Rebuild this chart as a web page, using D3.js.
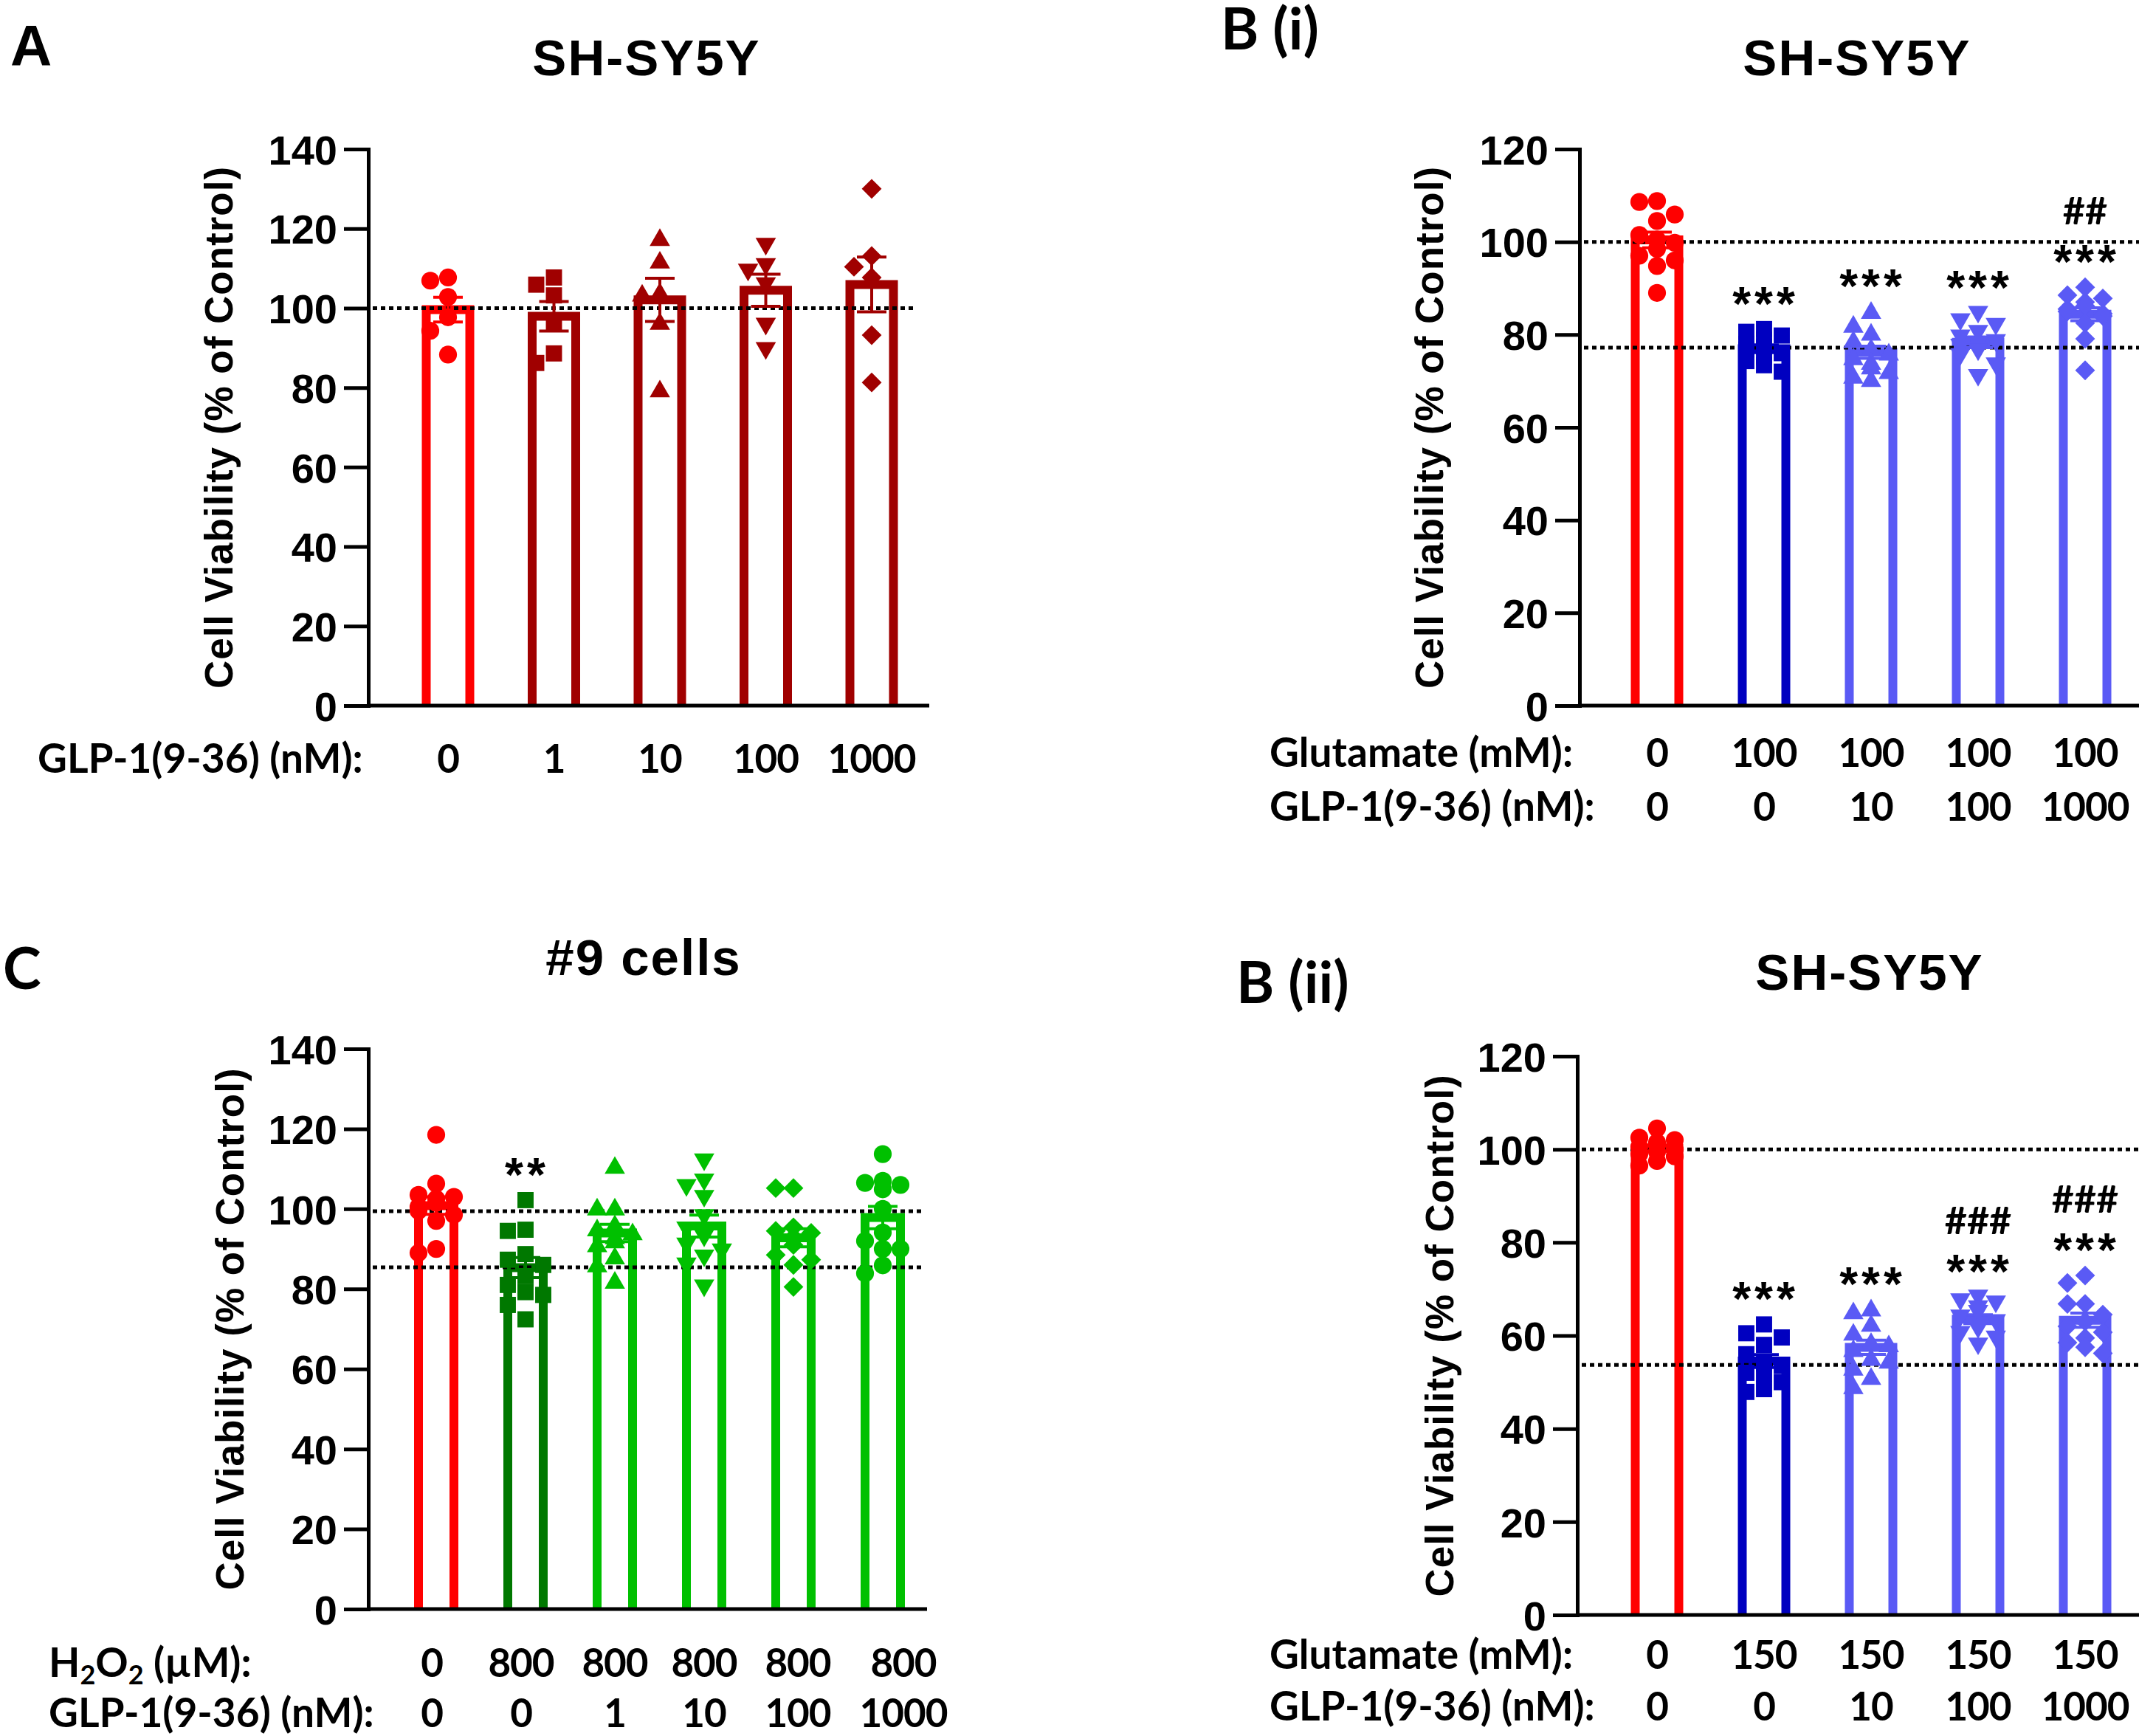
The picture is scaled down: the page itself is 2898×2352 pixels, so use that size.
<!DOCTYPE html>
<html>
<head>
<script src="https://cdnjs.cloudflare.com/ajax/libs/d3/7.8.5/d3.min.js"></script>
<style>
  body { margin: 0; background: #fff; }
  text { fill: #000; }
  .ari { font-family: "Liberation Sans", Arial, sans-serif; font-weight: bold; }
  .cal { font-family: Lato, "Open Sans", sans-serif; font-weight: bold; }
  .tick text { font-family: "Liberation Sans", Arial, sans-serif; font-weight: bold; font-size: 56px; }
</style>
</head>
<body>
<svg id="fig" width="2898" height="2352"></svg>
<script>
// ---- Panel A : SH-SY5Y, GLP-1(9-36) alone
var aGlp = ["0", "1", "10", "100", "1000"];
var aValues = [
  [106.9, 107.7, 102.8, 97.7, 94.3, 88.3],
  [107.7, 105.9, 103.2, 96.1, 86.2, 88.6],
  [117.5, 111.8, 103.5, 103.9, 96.4, 79.4],
  [115.8, 110.7, 109.3, 105.9, 95.7, 89.6],
  [130.0, 113.1, 110.4, 107.7, 93.2, 81.3]
];
var aStars = ["", "", "", "", ""];
var aHash = ["", "", "", "", ""];
var aRef = [100];

// ---- Panel B(i) : SH-SY5Y, glutamate 100 mM
var b1Glu = ["0", "100", "100", "100", "100"];
var b1Glp = ["0", "0", "10", "100", "1000"];
var b1Values = [
  [108.6, 108.8, 105.9, 104.5, 101.5, 100.5, 99.8, 98.5, 97.0, 96.0, 94.8, 89.0],
  [81.2, 80.6, 79.8, 78.9, 78.0, 77.4, 76.8, 76.0, 75.2, 74.3, 73.4, 72.0],
  [85.0, 82.0, 80.3, 78.7, 77.0, 76.0, 75.0, 74.0, 73.0, 72.0, 71.0, 70.3],
  [84.6, 83.0, 82.0, 80.5, 79.5, 78.5, 78.0, 77.5, 76.5, 75.5, 73.5, 71.0],
  [90.2, 88.5, 87.8, 87.0, 86.2, 85.5, 85.0, 84.5, 84.0, 82.5, 79.1, 72.3]
];
var b1Stars = ["", "***", "***", "***", "***"];
var b1Hash = ["", "", "", "", "##"];
var b1Ref = [100, 77.2];

// ---- Panel C : #9 cells, H2O2 800 uM
var cH2o2 = ["0", "800", "800", "800", "800", "800"];
var cGlp = ["0", "0", "1", "10", "100", "1000"];
var cValues = [
  [118.5, 106.3, 103.5, 103.0, 102.5, 101.5, 100.5, 99.5, 98.5, 97.0, 90.0, 89.0],
  [102.2, 94.8, 94.5, 88.7, 87.3, 86.0, 83.2, 81.0, 79.2, 78.5, 76.0, 72.4],
  [110.6, 100.2, 100.2, 96.0, 95.0, 94.0, 93.0, 92.0, 91.0, 88.0, 86.0, 81.9],
  [112.0, 107.0, 105.6, 102.9, 98.1, 95.0, 93.0, 91.0, 89.5, 88.0, 86.0, 80.5],
  [105.2, 105.2, 95.4, 94.5, 94.0, 93.0, 91.0, 88.5, 87.3, 80.5, 86.0],
  [113.7, 107.0, 106.5, 106.0, 104.9, 100.0, 94.1, 92.0, 90.0, 90.0, 85.9, 83.9]
];
var cStars = ["", "**", "", "", "", ""];
var cHash = ["", "", "", "", "", ""];
var cRef = [99.4, 85.4];

// ---- Panel B(ii) : SH-SY5Y, glutamate 150 mM
var b2Glu = ["0", "150", "150", "150", "150"];
var b2Glp = ["0", "0", "10", "100", "1000"];
var b2Values = [
  [104.5, 102.5, 102.0, 101.5, 101.0, 100.5, 100.0, 99.5, 99.0, 98.5, 97.5, 96.5],
  [62.4, 60.5, 59.6, 58.0, 56.0, 54.0, 53.5, 52.0, 51.8, 50.0, 48.5, 47.9],
  [65.7, 65.1, 62.4, 60.5, 58.5, 58.0, 57.0, 55.1, 54.5, 53.0, 51.0, 49.0],
  [68.3, 67.5, 67.0, 66.0, 65.0, 64.0, 63.0, 62.0, 61.5, 60.5, 59.5, 58.0],
  [72.9, 71.3, 66.8, 66.8, 64.5, 63.0, 62.0, 60.7, 59.5, 58.5, 57.5, 56.2]
];
var b2Stars = ["", "***", "***", "***", "***"];
var b2Hash = ["", "", "", "###", "###"];
var b2Ref = [100, 53.7];

var svg = d3.select("#fig");

var sym = {
  circle: d3.symbol().type(d3.symbolCircle).size(460),
  square: d3.symbol().type(d3.symbolSquare).size(480),
  triangle: d3.symbol().type(d3.symbolTriangle).size(330),
  diamond: d3.symbol().type(d3.symbolSquare).size(360)
};
var rot = { circle: 0, square: 0, triangle: 0, down: 180, diamond: 45 };

function mean(v) { return d3.mean(v); }
function sem(v) { return d3.deviation(v) / Math.sqrt(v.length); }

// spread overlapping points sideways, like a scatter dot plot
function swarm(vals, y, size) {
  var order = d3.range(vals.length).sort((a, b) => vals[b] - vals[a]);
  var placed = [], off = [];
  var slots = [0, -1, 1, -0.5, 0.5];
  order.forEach(function (i) {
    var py = y(vals[i]), best = 0, bestHits = Infinity;
    slots.forEach(function (k) {
      if (bestHits === 0) return;
      var dx = k * size;
      var hits = placed.filter(p => Math.abs(p.x - dx) < size * 0.85 && Math.abs(p.y - py) < size * 0.85).length;
      if (hits < bestHits) { bestHits = hits; best = dx; }
    });
    off[i] = best;
    placed.push({ x: best, y: py });
  });
  return off;
}

function drawPanel(o) {
  var g = svg.append("g");
  var y = d3.scaleLinear().domain([0, o.yMax]).range([o.y0, o.yTop]);
  var x = d3.scalePoint().domain(d3.range(o.values.length)).range([o.xFirst, o.xLast]);

  // panel letter and title
  g.append("text").attr("class", o.letterFont).attr("x", o.letterX).attr("y", o.letterY)
    .style("font-size", "78px").text(o.letter);
  g.append("text").attr("class", "ari").attr("x", o.titleX).attr("y", o.titleY)
    .attr("text-anchor", "middle").style("font-size", "69px").style("letter-spacing", "2px").text(o.title);

  // y axis title
  g.append("text").attr("class", "ari")
    .attr("transform", "translate(" + o.labX + "," + (y(0) + y(o.yMax)) / 2 + ") rotate(-90)")
    .attr("text-anchor", "middle").attr("dy", "0.36em")
    .style("font-size", "53px").style("letter-spacing", "1px")
    .text("Cell Viability (% of Control)");

  // hollow bars, open at the baseline
  g.selectAll("path.bar").data(o.values).enter().append("path")
    .attr("class", "bar")
    .attr("d", function (d, i) {
      var l = x(i) - o.barW / 2, r = x(i) + o.barW / 2;
      return "M" + l + "," + y(0) + "V" + y(mean(d)) + "H" + r + "V" + y(0);
    })
    .attr("fill", "#fff")
    .attr("stroke", (d, i) => o.colors[i])
    .attr("stroke-width", 12)
    .attr("stroke-linejoin", "miter");

  // reference lines
  g.selectAll("line.ref").data(o.ref).enter().append("line")
    .attr("x1", o.axisX + 6).attr("x2", o.refEnd)
    .attr("y1", d => y(d)).attr("y2", d => y(d))
    .attr("stroke", "#000").attr("stroke-width", 5).attr("stroke-dasharray", "6 5");

  // error bars (mean +/- SEM)
  o.values.forEach(function (v, i) {
    var m = mean(v), s = sem(v), c = o.colors[i];
    var eb = g.append("g").attr("stroke", c).attr("stroke-width", 4);
    eb.append("line").attr("x1", x(i)).attr("x2", x(i)).attr("y1", y(m - s)).attr("y2", y(m + s));
    [m - s, m + s].forEach(function (e) {
      eb.append("line").attr("x1", x(i) - 20).attr("x2", x(i) + 20).attr("y1", y(e)).attr("y2", y(e));
    });
  });

  // points
  o.values.forEach(function (v, i) {
    var off = swarm(v, y, 24);
    var shape = o.shapes[i];
    var gen = shape === "down" ? sym.triangle : sym[shape];
    g.selectAll(null).data(v).enter().append("path")
      .attr("d", gen)
      .attr("transform", (d, j) => "translate(" + (x(i) + off[j]) + "," + (y(d) + (shape === "down" ? -2 : shape === "triangle" ? 2 : 0)) + ") rotate(" + rot[shape] + ")")
      .attr("fill", o.colors[i]);
  });

  // significance marks
  o.values.forEach(function (v, i) {
    var top = y(d3.max(v)) - 48;
    if (o.stars[i]) {
      g.append("text").attr("class", "ari").attr("x", x(i) + 2).attr("y", top + 36)
        .attr("text-anchor", "middle").style("font-size", "64px").style("letter-spacing", "5px")
        .text(o.stars[i]);
    }
    if (o.hash[i]) {
      g.append("text").attr("class", "cal").attr("x", x(i)).attr("y", top - 56 + 19)
        .attr("text-anchor", "middle").style("font-size", "52px").text(o.hash[i]);
    }
  });

  // axes
  var ax = d3.axisLeft(y).tickValues(d3.range(0, o.yMax + 1, 20))
    .tickSize(33).tickSizeOuter(0).tickPadding(9);
  var ya = g.append("g").attr("transform", "translate(" + o.axisX + ",0)").call(ax);
  ya.select(".domain").attr("stroke-width", 5).attr("stroke-linecap", "square");
  ya.selectAll(".tick line").attr("stroke-width", 5);
  ya.selectAll(".tick text").attr("dy", "0.36em");
  g.append("line").attr("x1", o.axisX).attr("x2", o.xEnd).attr("y1", y(0)).attr("y2", y(0))
    .attr("stroke", "#000").attr("stroke-width", 5);

  // condition rows under the bars
  o.rows.forEach(function (r) {
    var t = g.append("text").attr("class", "cal").attr("x", o.rowX).attr("y", r.y)
      .style("font-size", "55px");
    if (r.name === "H2O2") {
      t.append("tspan").text("H");
      t.append("tspan").attr("dy", 10).style("font-size", "36px").text("2");
      t.append("tspan").attr("dy", -10).text("O");
      t.append("tspan").attr("dy", 10).style("font-size", "36px").text("2");
      t.append("tspan").attr("dy", -10).text(" (\u00b5M):");
    } else {
      t.text(r.name);
    }
    g.selectAll(null).data(r.labels).enter().append("text")
      .attr("class", "cal").attr("x", (d, i) => x(i) + (o.labelShift ? o.labelShift[i] : 0)).attr("y", r.y)
      .attr("text-anchor", "middle").style("font-size", "53px").style("letter-spacing", "-1px").text(d => d);
  });
}

var red = "#ff0000";
var dkRed = "#a00000", dkBlue = "#0000c0", ltBlue = "#5a5af5", dkGreen = "#007800", green = "#00c000";

drawPanel({
  letter: "A", letterFont: "ari", letterX: 14, letterY: 89, title: "SH-SY5Y", titleX: 876, titleY: 102,
  values: aValues, stars: aStars, hash: aHash, ref: aRef,
  colors: [red, dkRed, dkRed, dkRed, dkRed],
  shapes: ["circle", "square", "triangle", "down", "diamond"],
  yMax: 140, y0: 956, yTop: 202, axisX: 499, xFirst: 607, xLast: 1181, xEnd: 1259, refEnd: 1240,
  barW: 59, labX: 296, rowX: 51,
  rows: [{ name: "GLP-1(9-36) (nM):", labels: aGlp, y: 1047 }]
});

drawPanel({
  letter: "B (i)", letterFont: "cal", letterX: 1654, letterY: 67, title: "SH-SY5Y", titleX: 2516, titleY: 102,
  values: b1Values, stars: b1Stars, hash: b1Hash, ref: b1Ref,
  colors: [red, dkBlue, ltBlue, ltBlue, ltBlue],
  shapes: ["circle", "square", "triangle", "down", "diamond"],
  yMax: 120, y0: 956, yTop: 202, axisX: 2140, xFirst: 2245, xLast: 2825, xEnd: 2898, refEnd: 2898,
  barW: 59, labX: 1936, rowX: 1720,
  rows: [{ name: "Glutamate (mM):", labels: b1Glu, y: 1039 },
         { name: "GLP-1(9-36) (nM):", labels: b1Glp, y: 1112 }]
});

drawPanel({
  letter: "C", letterFont: "cal", letterX: 4, letterY: 1340, title: "#9 cells", titleX: 872, titleY: 1321,
  values: cValues, stars: cStars, hash: cHash, ref: cRef,
  colors: [red, dkGreen, green, green, green, green],
  shapes: ["circle", "square", "triangle", "down", "diamond", "circle"],
  yMax: 140, y0: 2180, yTop: 1421, axisX: 499, xFirst: 591, xLast: 1196, xEnd: 1256, refEnd: 1248,
  barW: 48, labX: 311, rowX: 66, labelShift: [-6, -6, 0, 0, 6, 28],
  rows: [{ name: "H2O2", labels: cH2o2, y: 2272 },
         { name: "GLP-1(9-36) (nM):", labels: cGlp, y: 2340 }]
});

drawPanel({
  letter: "B (ii)", letterFont: "cal", letterX: 1675, letterY: 1359, title: "SH-SY5Y", titleX: 2533, titleY: 1341,
  values: b2Values, stars: b2Stars, hash: b2Hash, ref: b2Ref,
  colors: [red, dkBlue, ltBlue, ltBlue, ltBlue],
  shapes: ["circle", "square", "triangle", "down", "diamond"],
  yMax: 120, y0: 2188, yTop: 1431, axisX: 2137, xFirst: 2245, xLast: 2825, xEnd: 2898, refEnd: 2898,
  barW: 59, labX: 1950, rowX: 1720,
  rows: [{ name: "Glutamate (mM):", labels: b2Glu, y: 2261 },
         { name: "GLP-1(9-36) (nM):", labels: b2Glp, y: 2331 }]
});
</script>
</body>
</html>
